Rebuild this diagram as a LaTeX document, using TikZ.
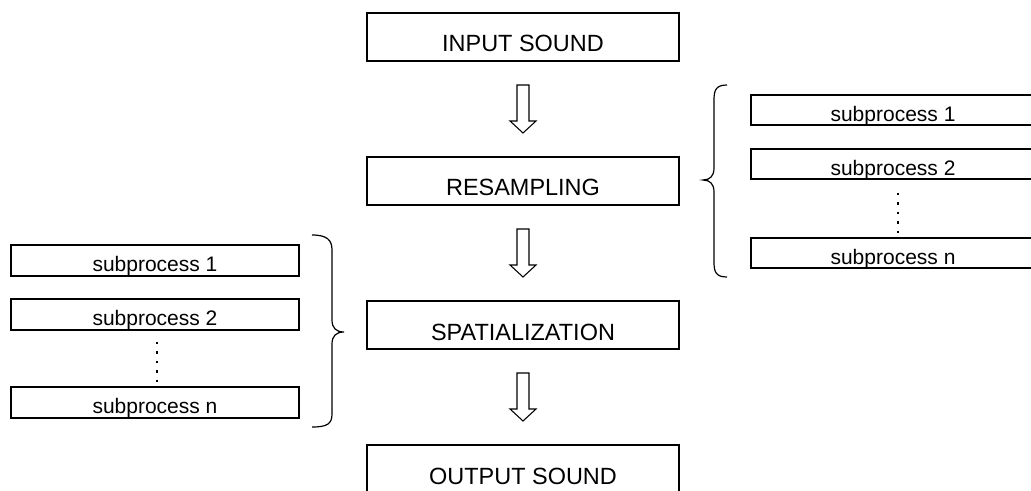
\documentclass[tikz,border=0pt]{standalone}
\usepackage{fontspec}
\setmainfont{Liberation Sans}
\usetikzlibrary{calc}
\begin{document}
\begin{tikzpicture}[x=0.75pt,y=-0.75pt,
  mainbox/.style={draw,line width=0.9pt,inner sep=0pt,minimum width=234pt,minimum height=36pt,
    text height=22.5pt,text depth=0pt,font=\fontsize{17.6}{20}\selectfont},
  rsub/.style={draw,line width=0.9pt,inner sep=0pt,minimum width=213pt,minimum height=22.5pt,
    text height=16.9pt,text depth=0pt,font=\fontsize{15.75}{18}\selectfont},
  lsub/.style={draw,line width=0.9pt,inner sep=0pt,minimum width=216pt,minimum height=23.25pt,
    text height=16.9pt,text depth=0pt,font=\fontsize{15.75}{18}\selectfont},
  vdots/.style={line width=1.8pt,line cap=butt,dash pattern=on 1.8pt off 5.25pt},
  bracepath/.style={line width=0.9pt},
  barrow/.pic={\draw[line width=0.8pt,line join=miter] (-6,-24) -- (6,-24) -- (6,12) -- (13,12) -- (0,24) -- (-13,12) -- (-6,12) -- cycle;}
]
\useasboundingbox (0,0) rectangle (1031,491);
\clip (0,0) rectangle (1031,491);
% main chain
\node[mainbox] (in)  at (523,37)  {INPUT SOUND};
\node[mainbox] (res) at (523,181) {RESAMPLING};
\node[mainbox] (spa) at (523,325) {SPATIALIZATION};
\node[mainbox] (out) at (523,469) {OUTPUT SOUND};
\pic at ($(in.south)!0.5!(res.north)$) {barrow};
\pic at ($(res.south)!0.5!(spa.north)$) {barrow};
\pic at ($(spa.south)!0.5!(out.north)$) {barrow};
% right subprocesses
\node[rsub] (r1) at (893,110) {subprocess 1};
\node[rsub] (r2) at (893,164) {subprocess 2};
\node[rsub] (rn) at (893,253) {subprocess n};
\coordinate (rd1) at (898,193);
\coordinate (rd2) at (898,234);
\draw[vdots] (rd1) -- (rd2);
\draw[bracepath] (727,85) .. controls (716,85) and (714,90) .. (714,100) -- (714,168)
  .. controls (714,176) and (710,180) .. (703,180)
  .. controls (710,180) and (714,184) .. (714,192) -- (714,262)
  .. controls (714,272) and (716,277) .. (727,277);
% left subprocesses
\node[lsub] (l1) at (155,260.5) {subprocess 1};
\node[lsub] (l2) at (155,314.5) {subprocess 2};
\node[lsub] (ln) at (155,402.5) {subprocess n};
\coordinate (ld1) at (157,342);
\coordinate (ld2) at (157,383);
\draw[vdots] (ld1) -- (ld2);
\draw[bracepath] (312,235) .. controls (327,235) and (332,240) .. (332,250) -- (332,320)
  .. controls (332,328) and (336,332) .. (344,332)
  .. controls (336,332) and (332,336) .. (332,344) -- (332,414)
  .. controls (332,424) and (327,427) .. (312,427);
\end{tikzpicture}
\end{document}
